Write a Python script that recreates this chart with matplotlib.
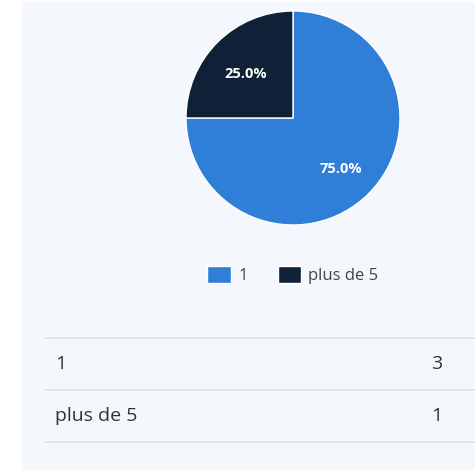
import matplotlib.pyplot as plt

# datos
categorias = ['1', 'plus de 5']
valores = [3, 1]
colores = ['#2f7ed8', '#0f2137']

fondo = '#f4f7fb'
texto = '#333333'
linea = '#dfe4e9'

W, H = 475, 470
fig = plt.figure(figsize=(W / 100, H / 100), dpi=100)
fig.patch.set_facecolor('white')

# panel de fondo (px -> fraccion de figura)
bg = fig.add_axes([22 / W, 0, 1 - 22 / W, (H - 2) / H], zorder=-1)
bg.set_facecolor(fondo)
bg.axis('off')
bg.add_patch(plt.Rectangle((0, 0), 1, 1, color=fondo, transform=bg.transAxes))

# torta
cx, cy, r = 293, 118, 107
ax = fig.add_axes([(cx - r) / W, (H - cy - r) / H, 2 * r / W, 2 * r / H], zorder=1)
ax.set_facecolor('none')
wedges, _, autotexts = ax.pie(valores, colors=colores, startangle=90,
                              counterclock=False, autopct='%1.1f%%',
                              pctdistance=0.63, radius=1,
                              wedgeprops=dict(edgecolor='white', linewidth=1))
for t in autotexts:
    t.set_color('white')
    t.set_fontweight('bold')
    t.set_fontsize(10.5)
    t.set_family('Open Sans')
    x, y = t.get_position()
    t.set_position((x, y - 0.035))  # pequeño ajuste vertical
ax.set_xlim(-1, 1)
ax.set_ylim(-1, 1)
ax.set_aspect('equal')

# leyenda
leg = fig.legend(wedges, categorias, loc='center', bbox_to_anchor=(293 / W, 1 - 275 / H),
                 ncol=2, frameon=False, handlelength=1.4, handleheight=1.2,
                 handletextpad=0.45, columnspacing=1.8,
                 prop={'family': 'Open Sans', 'size': 12})
for t in leg.get_texts():
    t.set_color('#444444')

# tabla
for y in [338, 390, 442]:
    fig.add_artist(plt.Line2D([46 / W, 1], [1 - y / H, 1 - y / H],
                              transform=fig.transFigure, color=linea, lw=1.2))
for i, (cat, val) in enumerate(zip(categorias, valores)):
    y = 1 - (364 + 52 * i) / H
    fig.text(55 / W, y, cat, ha='left', va='center', fontsize=14,
             family='Open Sans', color=texto)
    fig.text(431 / W, y, str(val), ha='left', va='center', fontsize=14,
             family='Open Sans', color=texto)

plt.savefig('out.png', dpi=100, facecolor=fig.get_facecolor())
